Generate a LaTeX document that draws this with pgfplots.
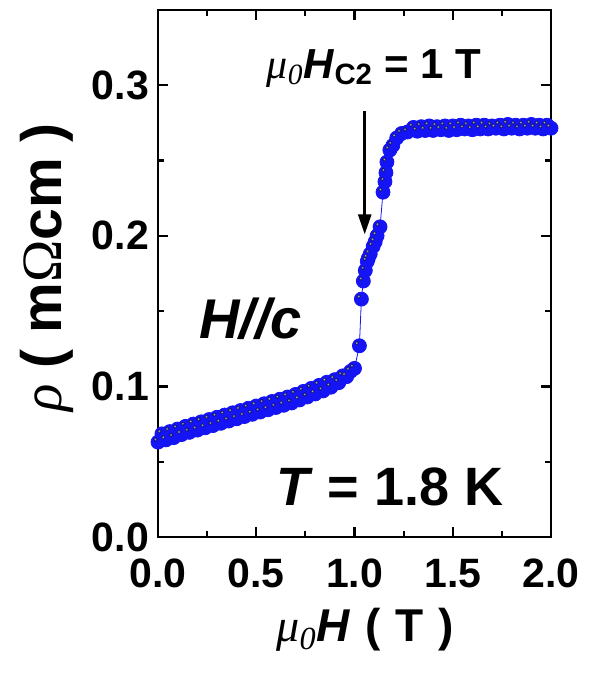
\documentclass[border=0pt]{standalone}
\usepackage{fontspec}
\setmainfont{Liberation Sans}
\newfontfamily\greekfont{Liberation Serif}
\usepackage{pgfplots}
\pgfplotsset{compat=1.18}
\usetikzlibrary{arrows.meta}

\definecolor{dotblue}{RGB}{20,20,245}

% thin italic Greek letters, as in the axis labels
\newcommand{\mugr}{{\greekfont\itshape\mdseries μ}}
\newcommand{\zerosub}{\textsubscript{\greekfont\itshape\mdseries 0}}

% field sweep, first branch
\pgfplotstableread{
x      y
0.00   0.0630
0.04   0.0645
0.08   0.0660
0.12   0.0680
0.16   0.0695
0.20   0.0710
0.24   0.0725
0.28   0.0740
0.32   0.0755
0.36   0.0770
0.40   0.0785
0.44   0.0800
0.48   0.0815
0.52   0.0830
0.56   0.0845
0.60   0.0860
0.64   0.0875
0.68   0.0890
0.72   0.0910
0.76   0.0930
0.80   0.0950
0.84   0.0970
0.88   0.0995
0.92   0.1025
0.96   0.1065
1.00   0.1120
1.025  0.1270
1.035  0.1580
1.045  0.1700
1.055  0.1770
1.065  0.1830
1.080  0.1880
1.095  0.1930
1.115  0.2000
1.130  0.2060
1.145  0.2290
1.155  0.2360
1.165  0.2490
1.180  0.2570
1.215  0.2650
1.27   0.2690
1.32   0.2695
1.36   0.2700
1.40   0.2700
1.44   0.2705
1.48   0.2700
1.52   0.2705
1.56   0.2710
1.60   0.2705
1.64   0.2710
1.68   0.2710
1.72   0.2715
1.76   0.2710
1.80   0.2715
1.84   0.2710
1.88   0.2715
1.92   0.2715
1.96   0.2710
2.00   0.2715
}\sweepA

% field sweep, second branch
\pgfplotstableread{
x      y
0.02   0.0685
0.06   0.0700
0.10   0.0717
0.14   0.0735
0.18   0.0750
0.22   0.0765
0.26   0.0780
0.30   0.0795
0.34   0.0810
0.38   0.0825
0.42   0.0840
0.46   0.0855
0.50   0.0870
0.54   0.0885
0.58   0.0900
0.62   0.0915
0.66   0.0930
0.70   0.0947
0.74   0.0967
0.78   0.0987
0.82   0.1007
0.86   0.1028
0.90   0.1045
0.94   0.1070
0.98   0.1100
1.070  0.1850
1.105  0.1960
1.160  0.2420
1.195  0.2600
1.240  0.2680
1.30   0.2720
1.34   0.2725
1.38   0.2730
1.42   0.2725
1.46   0.2730
1.50   0.2730
1.54   0.2735
1.58   0.2730
1.62   0.2735
1.66   0.2735
1.70   0.2730
1.74   0.2735
1.78   0.2740
1.82   0.2735
1.86   0.2735
1.90   0.2740
1.94   0.2735
1.98   0.2735
}\sweepB

\begin{document}
\begin{tikzpicture}
\begin{axis}[
  scale only axis,
  width=196.5pt, height=263.5pt,
  xmin=0, xmax=2, ymin=0, ymax=0.35,
  xtick={0,0.5,1,1.5,2},
  ytick={0,0.1,0.2,0.3},
  minor x tick num=1,
  minor y tick num=1,
  tick align=inside,
  major tick length=5pt,
  minor tick length=3pt,
  every tick/.style={black, line width=1.1pt},
  axis line style={line width=1.4pt},
  /pgf/number format/assume math mode=true,
  /pgf/number format/.cd, fixed, fixed zerofill, precision=1,
  /pgfplots/.cd,
  ticklabel style={font=\fontsize{20.5}{24}\selectfont\bfseries},
  xticklabel style={anchor=base, yshift=-25pt},
  yticklabel style={xshift=-1pt},
  clip=false,
]
\coordinate (bl) at (rel axis cs:0,0);

\addplot[only marks, mark=*, mark size=3.5pt,
  mark options={fill=dotblue, draw=dotblue}] table[x=x,y=y] {\sweepB};
\addplot[dotblue, line width=0.4pt, mark=*, mark size=3.5pt,
  mark options={fill=dotblue, draw=dotblue}] table[x=x,y=y] {\sweepA};
% small specular highlight on each ball
\addplot[only marks, mark=*, mark size=0.8pt,
  mark options={fill=white, draw=none, opacity=0.6, xshift=-1.3pt, yshift=1.3pt}]
  table[x=x,y=y] {\sweepB};
\addplot[only marks, mark=*, mark size=0.8pt,
  mark options={fill=white, draw=none, opacity=0.6, xshift=-1.3pt, yshift=1.3pt}]
  table[x=x,y=y] {\sweepA};

% upper critical field marker
\node[font=\fontsize{21}{24}\selectfont\bfseries] at (axis cs:1.10,0.311)
  {\mugr\zerosub\textit{H}\textsubscript{C2} = 1 T};
\draw[line width=1.3pt, -{Triangle[length=10pt, width=6.5pt]}]
  (axis cs:1.052,0.283) -- (axis cs:1.052,0.201);

\node[font=\fontsize{28}{32}\selectfont\bfseries\itshape] at (axis cs:0.47,0.145) {H//c};
\node[font=\fontsize{27}{32}\selectfont\bfseries] at (axis cs:1.18,0.033)
  {\textit{T} = 1.8 K};

% axis titles
\node[anchor=base, font=\fontsize{23}{26}\selectfont\bfseries]
  at (axis description cs:0.527,-0.199)
  {\mugr\zerosub\textit{H}\hspace{0.32em}(\hspace{0.32em}T\hspace{0.32em})};
\node[rotate=90, anchor=base, font=\fontsize{28.5}{32}\selectfont\bfseries]
  at (axis description cs:-0.245,0.512)
  {{\greekfont\itshape\mdseries ρ} ( m{\greekfont\mdseries Ω}cm )};
\end{axis}
\pgfresetboundingbox
\path[use as bounding box] ([shift={(-79pt,-68pt)}]bl) rectangle ([shift={(216pt,268.5pt)}]bl);
\end{tikzpicture}
\end{document}
